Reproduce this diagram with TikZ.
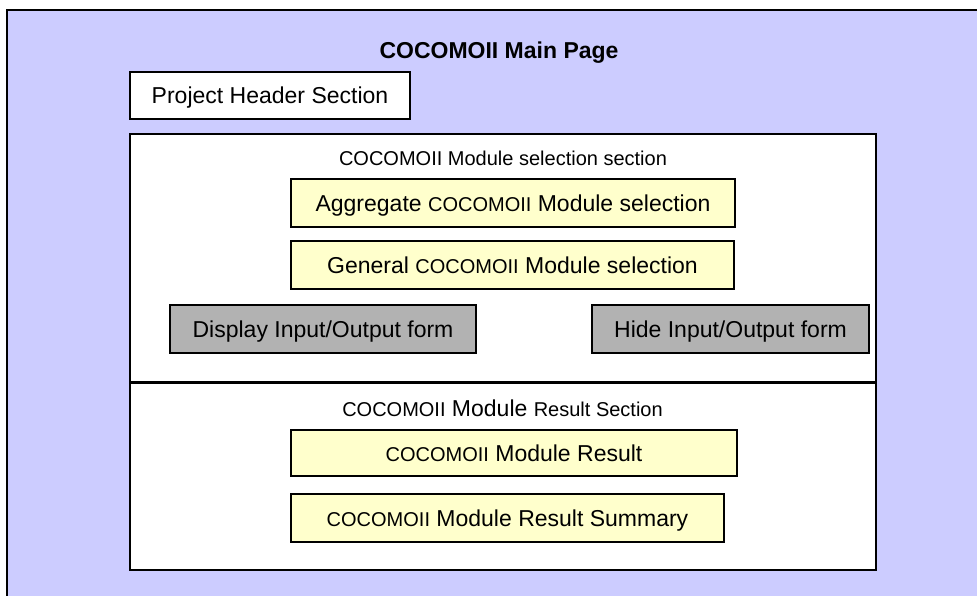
\documentclass[tikz,border=0pt]{standalone}
\usepackage{fontspec}
\setmainfont{Liberation Sans}
\usetikzlibrary{shadows}

\definecolor{pagebg}{HTML}{CCCCFF}
\definecolor{selbg}{HTML}{FFFFCC}
\definecolor{btnbg}{HTML}{B2B2B2}

\newcommand{\smtxt}[1]{{\fontsize{10}{12}\selectfont #1}}

\tikzset{
  box/.style={draw=black, line width=0.75pt, inner sep=0pt,
    font=\fontsize{11.5}{14}\selectfont, text height=8.2pt, text depth=0pt,
    drop shadow={shadow xshift=0.6pt, shadow yshift=-0.6pt, fill=black!35, opacity=1}},
  panel/.style={box, fill=white},
  selbox/.style={box, fill=selbg},
  btn/.style={box, fill=btnbg},
  label/.style={inner sep=0pt, font=\fontsize{11.5}{14}\selectfont, text height=7.6pt, text depth=0pt},
}

\begin{document}
\begin{tikzpicture}[x=0.5pt, y=-0.5pt]
    \clip (0,0) rectangle (977,595);
    % main page background
    \fill[pagebg] (7,10) rectangle (990,610);
    \draw[line width=0.75pt] (990,10) -- (7,10) -- (7,610);
    \node[label, font=\fontsize{11.5}{14}\selectfont\bfseries, text height=8.2pt] (title) at (499,50) {COCOMOII Main Page};
    \node[panel, minimum width=140pt, minimum height=23.5pt] (header) at (270,95.5) {Project Header Section};

    % module selection section
    \node[panel, minimum width=373pt, minimum height=124.5pt] (selpanel) at (503,258.5) {};
    \node[label] (sellabel) at (503,158) {\smtxt{COCOMOII Module selection section}};
    \node[selbox, minimum width=222pt, minimum height=24pt] (aggsel) at (513,203) {Aggregate \smtxt{COCOMOII} Module selection};
    \node[selbox, minimum width=221.5pt, minimum height=24pt] (gensel) at (512.5,265) {General \smtxt{COCOMOII} Module selection};
    \node[btn, minimum width=153pt, minimum height=24pt] (showio) at (323,329) {Display Input/Output form};
    \node[btn, minimum width=138.5pt, minimum height=24pt] (hideio) at (730.5,329) {Hide Input/Output form};

    % result section
    \node[panel, minimum width=373pt, minimum height=93.5pt] (respanel) at (503,476.5) {};
    \draw[line width=1.5pt] (respanel.north west) -- (respanel.north east);
    \node[label] (reslabel) at (502.5,409) {\smtxt{COCOMOII} Module \smtxt{Result Section}};
    \node[selbox, minimum width=223pt, minimum height=23pt] (modres) at (514,453) {\smtxt{COCOMOII} Module Result};
    \node[selbox, minimum width=216.5pt, minimum height=24pt] (ressum) at (507.5,518) {\smtxt{COCOMOII} Module Result Summary};
\end{tikzpicture}
\end{document}
